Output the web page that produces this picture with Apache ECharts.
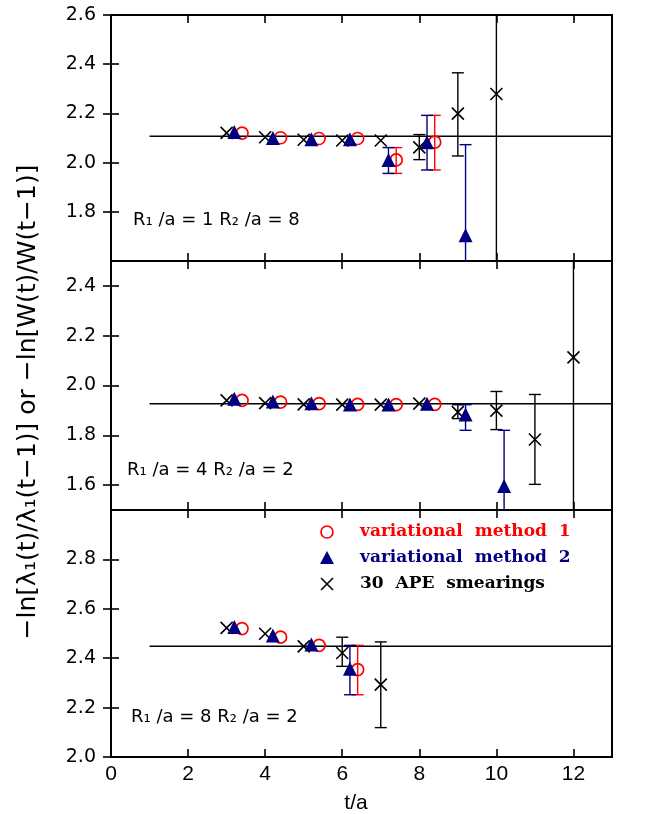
<!DOCTYPE html>
<html>
<head>
<meta charset="utf-8">
<script src="https://cdn.jsdelivr.net/npm/echarts@6/dist/echarts.min.js"></script>
<style>html,body{margin:0;padding:0;background:#fff;}#c{width:654px;height:814px;}</style>
</head>
<body>
<div id="c"></div>
<script>
// ---------- data ----------
const xTickLabels = [0, 2, 4, 6, 8, 10, 12];
const fitValues = [2.107, 1.927, 2.448];
const fitRange = [1, 13];
const yRanges = [[1.6, 2.6], [1.5, 2.5], [2.0, 3.0]];
const yLabels1 = [1.8, 2.0, 2.2, 2.4, 2.6];
const yLabels2 = [1.6, 1.8, 2.0, 2.2, 2.4];
const yLabels3 = [2.0, 2.2, 2.4, 2.6, 2.8];
const panelTexts = ['R₁ /a = 1 R₂ /a = 8', 'R₁ /a = 4 R₂ /a = 2', 'R₁ /a = 8 R₂ /a = 2'];
const legendNames = ['variational method 1', 'variational method 2', '30 APE smearings'];

// panel 1 : R1/a = 1, R2/a = 8
const p1_m1_t  = [3.4, 4.4, 5.4, 6.4, 7.4, 8.4];
const p1_m1_y  = [2.120, 2.101, 2.098, 2.098, 2.011, 2.083];
const p1_m1_lo = [null, null, null, null, 1.956, 1.970];
const p1_m1_hi = [null, null, null, null, 2.061, 2.192];
const p1_m2_t  = [3.2, 4.2, 5.2, 6.2, 7.2, 8.2, 9.2];
const p1_m2_y  = [2.124, 2.100, 2.095, 2.095, 2.011, 2.083, 1.705];
const p1_m2_lo = [null, null, null, null, 1.956, 1.970, 1.30];
const p1_m2_hi = [null, null, null, null, 2.061, 2.192, 2.073];
const p1_ape_t  = [3, 4, 5, 6, 7, 8, 9, 10];
const p1_ape_y  = [2.121, 2.103, 2.093, 2.090, 2.090, 2.062, 2.199, 2.279];
const p1_ape_lo = [null, null, null, null, null, 2.012, 2.027, 1.40];
const p1_ape_hi = [null, null, null, null, null, 2.114, 2.365, 2.90];

// panel 2 : R1/a = 4, R2/a = 2
const p2_m1_t  = [3.4, 4.4, 5.4, 6.4, 7.4, 8.4];
const p2_m1_y  = [1.940, 1.933, 1.927, 1.924, 1.923, 1.924];
const p2_m1_lo = [null, null, null, null, null, null];
const p2_m1_hi = [null, null, null, null, null, null];
const p2_m2_t  = [3.2, 4.2, 5.2, 6.2, 7.2, 8.2, 9.2, 10.2];
const p2_m2_y  = [1.947, 1.936, 1.929, 1.924, 1.924, 1.927, 1.884, 1.596];
const p2_m2_lo = [null, null, null, null, null, null, 1.820, 1.30];
const p2_m2_hi = [null, null, null, null, null, null, 1.923, 1.820];
const p2_ape_t  = [3, 4, 5, 6, 7, 8, 9, 10, 11, 12];
const p2_ape_y  = [1.940, 1.929, 1.924, 1.923, 1.923, 1.927, 1.893, 1.899, 1.783, 2.113];
const p2_ape_lo = [null, null, null, null, null, null, 1.867, 1.823, 1.603, 1.30];
const p2_ape_hi = [null, null, null, null, null, null, 1.923, 1.976, 1.964, 2.90];

// panel 3 : R1/a = 8, R2/a = 2
const p3_m1_t  = [3.4, 4.4, 5.4, 6.4];
const p3_m1_y  = [2.520, 2.485, 2.452, 2.354];
const p3_m1_lo = [null, null, null, 2.252];
const p3_m1_hi = [null, null, null, 2.452];
const p3_m2_t  = [3.2, 4.2, 5.2, 6.2];
const p3_m2_y  = [2.526, 2.492, 2.455, 2.357];
const p3_m2_lo = [null, null, null, 2.252];
const p3_m2_hi = [null, null, null, 2.452];
const p3_ape_t  = [3, 4, 5, 6, 7];
const p3_ape_y  = [2.523, 2.499, 2.448, 2.421, 2.293];
const p3_ape_lo = [null, null, null, 2.367, 2.119];
const p3_ape_hi = [null, null, null, 2.485, 2.466];

// ---------- build ----------
const RED = '#ff0000', NAVY = '#000080', BLACK = '#000000';
const panels = [
  {m1:[p1_m1_t,p1_m1_y,p1_m1_lo,p1_m1_hi], m2:[p1_m2_t,p1_m2_y,p1_m2_lo,p1_m2_hi], ape:[p1_ape_t,p1_ape_y,p1_ape_lo,p1_ape_hi], labels:yLabels1},
  {m1:[p2_m1_t,p2_m1_y,p2_m1_lo,p2_m1_hi], m2:[p2_m2_t,p2_m2_y,p2_m2_lo,p2_m2_hi], ape:[p2_ape_t,p2_ape_y,p2_ape_lo,p2_ape_hi], labels:yLabels2},
  {m1:[p3_m1_t,p3_m1_y,p3_m1_lo,p3_m1_hi], m2:[p3_m2_t,p3_m2_y,p3_m2_lo,p3_m2_hi], ape:[p3_ape_t,p3_ape_y,p3_ape_lo,p3_ape_hi], labels:yLabels3}
];
const gridTops = [15, 261, 510];
const gridHeights = [246, 249, 247];
const GL = 111, GR = 42;

const pts = (a) => a[0].map((t, i) => [t, a[1][i]]);
const errs = (a) => a[0].map((t, i) => [t, a[2][i], a[3][i]]).filter(d => d[1] != null);

function errRender(color) {
  return function (params, api) {
    const cs = params.coordSys;
    const x = api.value(0), lo = api.value(1), hi = api.value(2);
    const pLo = api.coord([x, lo]), pHi = api.coord([x, hi]);
    const top = cs.y, bot = cs.y + cs.height;
    const yHi = Math.max(top, pHi[1]), yLo = Math.min(bot, pLo[1]);
    const px = pLo[0], hw = 6;
    const st = {stroke: color, lineWidth: 1.4};
    const ch = [{type: 'line', shape: {x1: px, y1: yHi, x2: px, y2: yLo}, style: st}];
    if (pHi[1] >= top) ch.push({type: 'line', shape: {x1: px - hw, y1: pHi[1], x2: px + hw, y2: pHi[1]}, style: st});
    if (pLo[1] <= bot) ch.push({type: 'line', shape: {x1: px - hw, y1: pLo[1], x2: px + hw, y2: pLo[1]}, style: st});
    return {type: 'group', children: ch};
  };
}

const grids = [], xAxes = [], yAxes = [], series = [];
const tickStyle = {show: true, inside: true, length: 8, lineStyle: {color: '#000', width: 1.6}};
panels.forEach((p, i) => {
  grids.push({left: GL, right: GR, top: gridTops[i], height: gridHeights[i], show: true, borderColor: '#000', borderWidth: 2, backgroundColor: 'transparent'});
  xAxes.push({type: 'value', gridIndex: i, position: 'bottom', min: 0, max: 13,
    axisLine: {show: false}, splitLine: {show: false},
    axisTick: Object.assign({customValues: xTickLabels}, tickStyle),
    axisLabel: {show: i === 2, customValues: xTickLabels, margin: 7, color: '#000', fontFamily: 'Liberation Sans', fontSize: 21}});
  xAxes.push({type: 'value', gridIndex: i, position: 'top', min: 0, max: 13,
    axisLine: {show: false}, splitLine: {show: false},
    axisTick: Object.assign({customValues: xTickLabels}, tickStyle), axisLabel: {show: false}});
  yAxes.push({type: 'value', gridIndex: i, position: 'left', min: yRanges[i][0], max: yRanges[i][1],
    axisLine: {show: false}, splitLine: {show: false},
    axisTick: Object.assign({customValues: p.labels}, tickStyle),
    axisLabel: {customValues: p.labels, margin: 15, color: '#000', fontFamily: 'DejaVu Sans', fontSize: 19,
      formatter: v => v.toFixed(1)}});
  yAxes.push({type: 'value', gridIndex: i, position: 'right', min: yRanges[i][0], max: yRanges[i][1],
    axisLine: {show: false}, splitLine: {show: false},
    axisTick: Object.assign({customValues: p.labels}, tickStyle), axisLabel: {show: false}});
  const xi = 2 * i, yi = 2 * i;
  series.push({type: 'line', xAxisIndex: xi, yAxisIndex: yi, symbol: 'none', silent: true,
    data: [[fitRange[0], fitValues[i]], [fitRange[1], fitValues[i]]], lineStyle: {color: '#000', width: 1.5}, z: 1});
  [['m1', RED], ['ape', BLACK], ['m2', NAVY]].forEach(([k, c]) => {
    series.push({type: 'custom', xAxisIndex: xi, yAxisIndex: yi, clip: true, renderItem: errRender(c),
      data: errs(p[k]), z: 2, encode: {x: 0, y: [1, 2]}});
  });
  series.push({type: 'scatter', name: legendNames[0], xAxisIndex: xi, yAxisIndex: yi, data: pts(p.m1),
    symbol: 'circle', symbolSize: 12, itemStyle: {color: 'rgba(0,0,0,0)', borderColor: RED, borderWidth: 1.7, opacity: 1}, z: 3});
  series.push({type: 'scatter', name: legendNames[2], xAxisIndex: xi, yAxisIndex: yi, data: pts(p.ape),
    symbol: 'path://M0,0L10,10M10,0L0,10', symbolSize: 12,
    itemStyle: {color: 'rgba(0,0,0,0)', borderColor: BLACK, borderWidth: 1.6, opacity: 1}, z: 4});
  series.push({type: 'scatter', name: legendNames[1], xAxisIndex: xi, yAxisIndex: yi, data: pts(p.m2),
    symbol: 'triangle', symbolSize: 14, itemStyle: {color: NAVY, opacity: 1}, z: 5});
});

const annoPos = [[133, 222], [127, 472], [131, 719]];
const graphics = [];
panelTexts.forEach((t, i) => {
  graphics.push({type: 'text', left: annoPos[i][0], top: annoPos[i][1] - 11, z: 10,
    style: {text: t, font: '18px "DejaVu Sans"', fill: '#000'}});
});
// axis titles
graphics.push({type: 'text', x: 28, y: 402, rotation: Math.PI / 2, z: 10,
  style: {text: '−ln[λ₁(t)/λ₁(t−1)] or −ln[W(t)/W(t−1)]', font: '25px "DejaVu Sans"', fill: '#000', align: 'center', verticalAlign: 'middle'}});
graphics.push({type: 'text', x: 356, y: 803, z: 10,
  style: {text: 't/a', font: '21px "Liberation Sans"', fill: '#000', align: 'center', verticalAlign: 'middle'}});
// legend
const legColors = [RED, NAVY, BLACK];
const legY = [532, 558, 584];
graphics.push({type: 'circle', shape: {cx: 327, cy: legY[0], r: 6}, style: {fill: 'none', stroke: RED, lineWidth: 1.7}, z: 10});
graphics.push({type: 'polygon', shape: {points: [[327, legY[1] - 7], [334, legY[1] + 6], [320, legY[1] + 6]]}, style: {fill: NAVY}, z: 10});
graphics.push({type: 'polyline', shape: {points: [[321, legY[2] - 6], [333, legY[2] + 6]]}, style: {stroke: BLACK, lineWidth: 1.6, fill: null}, z: 10});
graphics.push({type: 'polyline', shape: {points: [[333, legY[2] - 6], [321, legY[2] + 6]]}, style: {stroke: BLACK, lineWidth: 1.6, fill: null}, z: 10});
legendNames.forEach((n, i) => {
  graphics.push({type: 'text', x: 360, y: legY[i], z: 10,
    style: {text: n.replace(/ /g, '  '), font: 'bold 17px "DejaVu Serif"', fill: legColors[i], verticalAlign: 'middle'}});
});

const chart = echarts.init(document.getElementById('c'), null, {renderer: 'canvas'});
chart.setOption({
  animation: false,
  backgroundColor: '#fff',
  grid: grids, xAxis: xAxes, yAxis: yAxes, series: series, graphic: graphics
});
</script>
</body>
</html>
